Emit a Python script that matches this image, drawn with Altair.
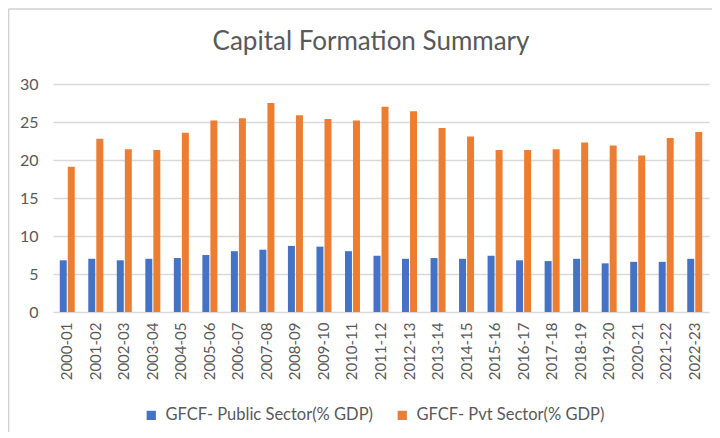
import altair as alt
import pandas as pd

periods = ["2000-01", "2001-02", "2002-03", "2003-04", "2004-05", "2005-06",
           "2006-07", "2007-08", "2008-09", "2009-10", "2010-11", "2011-12",
           "2012-13", "2013-14", "2014-15", "2015-16", "2016-17", "2017-18",
           "2018-19", "2019-20", "2020-21", "2021-22", "2022-23"]
public = [6.8, 7.0, 6.8, 7.0, 7.1, 7.5, 8.0, 8.2, 8.7, 8.6, 8.0, 7.4,
          7.0, 7.1, 7.0, 7.4, 6.8, 6.7, 7.0, 6.4, 6.6, 6.6, 7.0]
private = [19.1, 22.8, 21.4, 21.3, 23.6, 25.2, 25.5, 27.5, 25.9, 25.4, 25.2, 27.0,
           26.4, 24.2, 23.1, 21.3, 21.3, 21.4, 22.3, 21.9, 20.6, 22.9, 23.7]
series_names = ["GFCF- Public Sector(% GDP)", "GFCF- Pvt Sector(% GDP)"]
series_colors = ["#4472C4", "#ED7D31"]
y_ticks = [0, 5, 10, 15, 20, 25, 30]
title_text = "Capital Formation Summary"

rows = []
for p, a, b in zip(periods, public, private):
    rows.append({"period": p, "series": series_names[0], "value": a})
    rows.append({"period": p, "series": series_names[1], "value": b})
df = pd.DataFrame(rows)

FONT = "Lato"
GRAY = "#595959"

bars = alt.Chart(df).mark_bar().encode(
    x=alt.X("period:N", sort=periods,
            scale=alt.Scale(paddingInner=0.474, paddingOuter=0.237),
            axis=alt.Axis(title=None, labelAngle=270, labelFontSize=15,
                          labelColor=GRAY, labelFont=FONT, ticks=False,
                          domain=False, labelPadding=10, labelBaseline="middle")),
    xOffset=alt.XOffset("series:N", sort=series_names,
                        scale=alt.Scale(paddingInner=0.13, paddingOuter=0)),
    y=alt.Y("value:Q", scale=alt.Scale(domain=[0, 30], nice=False),
            axis=alt.Axis(title=None, values=y_ticks, labelFontSize=16,
                          labelColor=GRAY, labelFont=FONT, ticks=False,
                          domain=False, labelPadding=15, gridColor="#D9D9D9",
                          gridWidth=1.3)),
    color=alt.Color("series:N", sort=series_names,
                    scale=alt.Scale(domain=series_names, range=series_colors),
                    legend=alt.Legend(title=None, orient="none", legendX=90,
                                      legendY=323, direction="horizontal",
                                      symbolType="square", symbolSize=85,
                                      symbolStrokeWidth=0, labelFontSize=16.5,
                                      labelFont=FONT, labelColor=GRAY,
                                      labelLimit=0, columnPadding=21,
                                      labelOffset=6, symbolOffset=0)),
)

title = alt.Chart(pd.DataFrame({"t": [title_text]})).mark_text(
    font=FONT, fontSize=26, color=GRAY, baseline="alphabetic", align="center"
).encode(text="t:N", x=alt.value(318), y=alt.value(-34))

border = pd.DataFrame({"k": [0]})
top_line = alt.Chart(border).mark_rule(color="#D0D0D0", strokeWidth=1.5).encode(
    x=alt.value(-44.5), x2=alt.value(700), y=alt.value(-75))
left_line = alt.Chart(border).mark_rule(color="#D0D0D0", strokeWidth=1.5).encode(
    x=alt.value(-44.5), y=alt.value(-75), y2=alt.value(400))

chart = alt.layer(bars, title, top_line, left_line).properties(
    width=656, height=228,
    autosize=alt.AutoSizeParams(type="none"),
    padding={"left": 45, "top": 76, "right": 3, "bottom": 120},
    background="white",
).configure_view(stroke=None)

chart.save("out.html", embed_options={"renderer": "svg", "actions": False})
